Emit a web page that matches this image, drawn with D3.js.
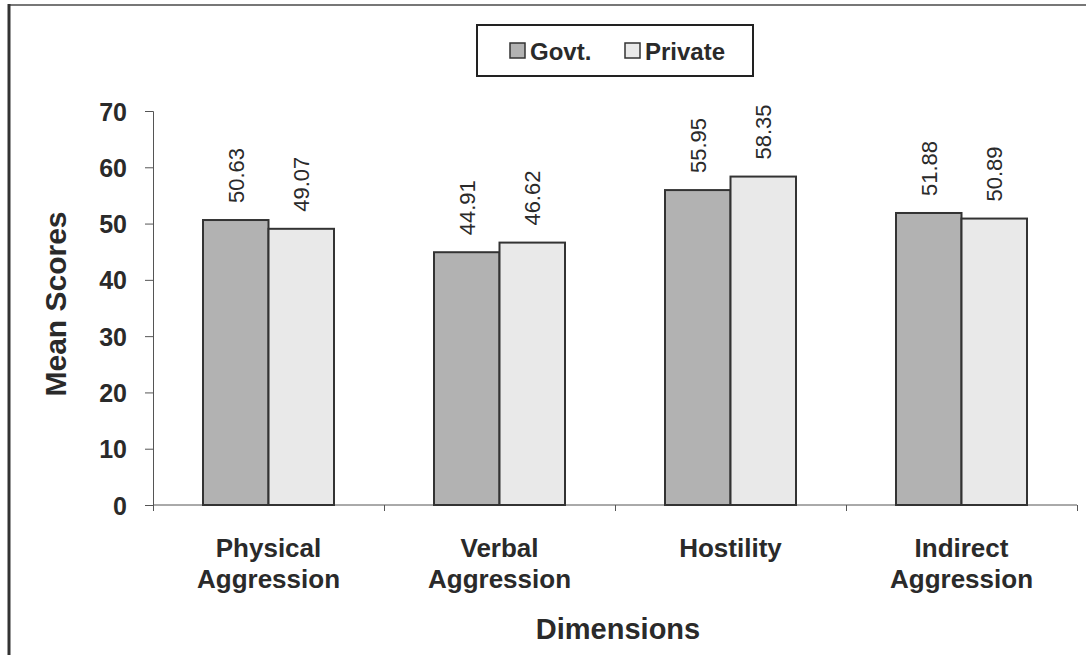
<!DOCTYPE html>
<html>
<head>
<meta charset="utf-8">
<script src="https://cdn.jsdelivr.net/npm/d3@7"></script>
<style>
  html, body { margin: 0; padding: 0; background: #fff; }
  svg { display: block; font-family: "Liberation Sans", Arial, sans-serif; }
</style>
</head>
<body>
<svg id="chart" width="1086" height="655"></svg>
<script>
const categories = [["Physical", "Aggression"], ["Verbal", "Aggression"], ["Hostility"], ["Indirect", "Aggression"]];
const seriesNames = ["Govt.", "Private"];
const govtValues = [50.63, 44.91, 55.95, 51.88];
const privateValues = [49.07, 46.62, 58.35, 50.89];
const yTicks = [0, 10, 20, 30, 40, 50, 60, 70];
const seriesFill = ["#b2b2b2", "#e9e9e9"];

const svg = d3.select("#chart");

// frame lines
svg.append("line").attr("x1", 9).attr("x2", 1086).attr("y1", 5).attr("y2", 5)
  .attr("stroke", "#777").attr("stroke-width", 2);
svg.append("line").attr("x1", 9).attr("x2", 9).attr("y1", 4).attr("y2", 655)
  .attr("stroke", "#333").attr("stroke-width", 3);

const plotLeft = 153, plotRight = 1077, plotTop = 111, plotBottom = 505;

const x = d3.scaleBand().domain(d3.range(categories.length)).range([plotLeft, plotRight]).padding(0);
const y = d3.scaleLinear().domain([0, 70]).range([plotBottom, plotTop]);
const xs = d3.scaleBand().domain(d3.range(seriesNames.length)).range([0, 131]);

// y axis
const yAxis = svg.append("g").attr("transform", `translate(${plotLeft},0)`)
  .call(d3.axisLeft(y).tickValues(yTicks).tickSize(8).tickPadding(18));
yAxis.select(".domain").attr("stroke", "#555");
yAxis.selectAll(".tick line").attr("stroke", "#555");
yAxis.selectAll(".tick text").attr("font-size", 25).attr("font-weight", "bold")
  .attr("fill", "#2a2a2a").attr("font-family", "Liberation Sans, Arial, sans-serif")
  .attr("dy", "0.36em");

// x axis
const xAxis = svg.append("g").attr("transform", `translate(0,${plotBottom})`)
  .call(d3.axisBottom(d3.scaleLinear().domain([0, 4]).range([plotLeft, plotRight]))
    .tickValues([0, 1, 2, 3, 4]).tickSize(6).tickFormat(""));
xAxis.select(".domain").attr("stroke", "#555").attr("d", `M${plotLeft},0H${plotRight}`);
xAxis.selectAll(".tick line").attr("stroke", "#555");

const data = categories.map((c, i) => ({ i, values: [govtValues[i], privateValues[i]] }));

const groups = svg.append("g").selectAll("g").data(data).join("g")
  .attr("transform", d => `translate(${x(d.i) + (x.bandwidth() - 131) / 2},0)`);

groups.selectAll("rect").data(d => d.values.map((v, s) => ({ v, s }))).join("rect")
  .attr("x", d => xs(d.s))
  .attr("y", d => y(d.v))
  .attr("width", xs.bandwidth())
  .attr("height", d => y(0) - y(d.v))
  .attr("fill", d => seriesFill[d.s])
  .attr("stroke", "#333").attr("stroke-width", 2);

groups.selectAll("text.val").data(d => d.values.map((v, s) => ({ v, s }))).join("text")
  .attr("class", "val")
  .attr("transform", d => `translate(${xs(d.s) + xs.bandwidth() / 2 + 8},${y(d.v) - 17}) rotate(-90)`)
  .attr("font-size", 22).attr("fill", "#2a2a2a")
  .text(d => d.v.toFixed(2));

// category labels
const catLabels = svg.append("g").selectAll("text").data(categories).join("text")
  .attr("x", (d, i) => x(i) + x.bandwidth() / 2)
  .attr("y", 557)
  .attr("text-anchor", "middle")
  .attr("font-size", 26).attr("font-weight", "bold").attr("fill", "#2a2a2a");
catLabels.selectAll("tspan").data(d => d).join("tspan")
  .attr("x", function () { return d3.select(this.parentNode).attr("x"); })
  .attr("dy", (d, i) => i === 0 ? 0 : 31)
  .text(d => d);

// axis titles
svg.append("text").attr("x", 618).attr("y", 639).attr("text-anchor", "middle")
  .attr("font-size", 29).attr("font-weight", "bold").attr("fill", "#2a2a2a").text("Dimensions");
svg.append("text").attr("transform", "translate(66,304) rotate(-90)").attr("text-anchor", "middle")
  .attr("font-size", 30).attr("font-weight", "bold").attr("fill", "#2a2a2a").text("Mean Scores");

// legend
const lg = svg.append("g");
lg.append("rect").attr("x", 477).attr("y", 25).attr("width", 276).attr("height", 51)
  .attr("fill", "#fff").attr("stroke", "#222").attr("stroke-width", 2);
const legendX = [510, 625];
seriesNames.forEach((name, s) => {
  lg.append("rect").attr("x", legendX[s]).attr("y", 43).attr("width", 15).attr("height", 15)
    .attr("fill", seriesFill[s]).attr("stroke", "#333").attr("stroke-width", 1.5);
  lg.append("text").attr("x", legendX[s] + 20).attr("y", 60)
    .attr("font-size", 24).attr("font-weight", "bold").attr("fill", "#2a2a2a").text(name);
});
</script>
</body>
</html>
